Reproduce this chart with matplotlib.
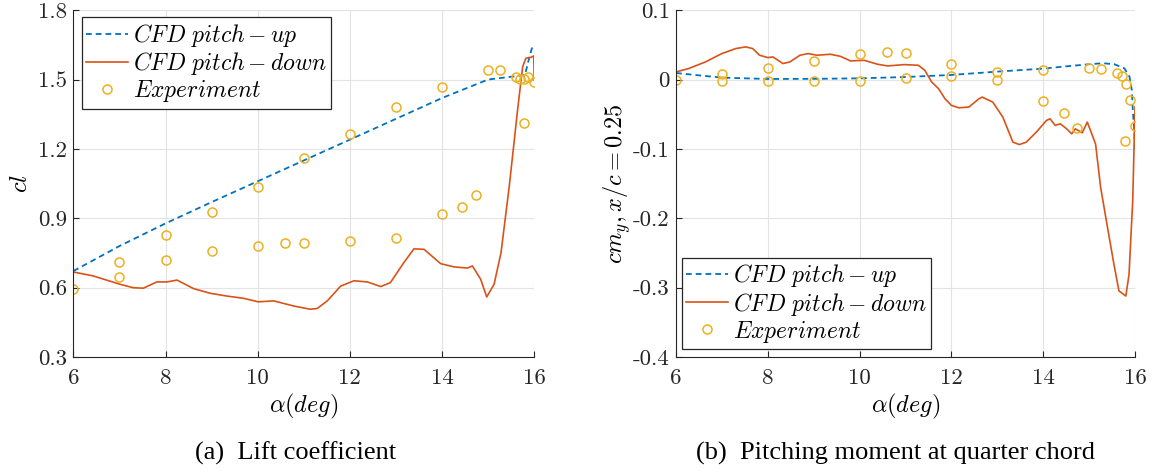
import numpy as np
import matplotlib

matplotlib.use('Agg')
import matplotlib.pyplot as plt

plt.rcParams['mathtext.fontset'] = 'cm'
plt.rcParams['axes.unicode_minus'] = False

BLUE = '#0072BD'
RED = '#D95319'
YELLOW = '#EDB120'

# ── (a) lift coefficient ──
cl_up_a = [6.0, 7.0, 8.0, 9.0, 10.0, 11.0, 12.0, 13.0, 14.0, 14.5, 15.0, 15.5, 15.8, 15.9, 15.96, 16.0]
cl_up = [0.672, 0.78, 0.878, 0.97, 1.06, 1.15, 1.24, 1.33, 1.42, 1.46, 1.50, 1.512, 1.52, 1.6, 1.642, 1.645]

cl_dn_a = [16.0, 15.99, 15.93, 15.82, 15.75, 15.64, 15.46, 15.28, 15.13, 14.97, 14.84, 14.66,
           14.55, 14.26, 13.97, 13.61, 13.39, 13.17, 12.88, 12.67, 12.38, 12.09, 11.80, 11.51,
           11.29, 11.14, 10.78, 10.35, 10.01, 9.70, 9.33, 8.97, 8.61, 8.25, 8.03, 7.81, 7.52,
           7.30, 7.01, 6.43, 6.0]
cl_dn = [1.498, 1.602, 1.596, 1.592, 1.556, 1.369, 1.04, 0.751, 0.615, 0.560, 0.636, 0.694,
         0.685, 0.69, 0.704, 0.766, 0.768, 0.708, 0.622, 0.605, 0.625, 0.630, 0.607, 0.543,
         0.51, 0.507, 0.521, 0.543, 0.539, 0.554, 0.564, 0.576, 0.596, 0.633, 0.625, 0.625,
         0.598, 0.600, 0.615, 0.651, 0.668]

cl_exp_a = [6.0, 7.0, 7.0, 8.0, 8.0, 9.0, 9.0, 10.0, 10.0, 10.6, 11.0, 11.0, 12.0, 12.0,
            13.0, 13.0, 14.0, 14.0, 14.43, 14.74, 15.0, 15.26, 15.6, 15.7, 15.78, 15.87,
            16.0, 15.78]
cl_exp = [0.593, 0.712, 0.645, 0.830, 0.718, 0.929, 0.757, 1.034, 0.781, 0.793, 0.794,
          1.159, 1.264, 0.800, 1.380, 0.816, 1.467, 0.918, 0.949, 1.000, 1.540, 1.540,
          1.513, 1.502, 1.504, 1.513, 1.490, 1.310]

# ── (b) pitching moment at quarter chord ──
cm_up_a = [6.0, 6.5, 7.0, 8.0, 9.0, 10.0, 11.0, 12.0, 13.0, 14.0, 14.5, 15.0, 15.3, 15.55,
           15.77, 15.88, 15.93, 15.95, 15.98, 16.0]
cm_up = [0.0094, 0.006, 0.0027, 0.0008, 0.001, 0.0017, 0.0036, 0.0066, 0.0114, 0.0157,
         0.019, 0.022, 0.0235, 0.022, 0.016, 0.004, -0.0155, -0.042, -0.07, -0.10]

cm_dn_a = [16.0, 15.95, 15.87, 15.8, 15.65, 15.54, 15.4, 15.25, 15.14, 14.96, 14.85, 14.7,
           14.62, 14.51, 14.37, 14.26, 14.15, 14.07, 13.85, 13.63, 13.48, 13.34, 13.12,
           12.9, 12.67, 12.6, 12.38, 12.16, 12.0, 11.86, 11.72, 11.57, 11.42, 11.28, 10.98,
           10.61, 10.39, 10.1, 9.8, 9.58, 9.36, 9.07, 8.88, 8.7, 8.48, 8.33, 8.11, 8.0,
           7.82, 7.67, 7.52, 7.3, 7.0, 6.64, 6.27, 6.0]
cm_dn = [-0.0397, -0.1746, -0.2805, -0.312, -0.3046, -0.266, -0.213, -0.155, -0.0927,
         -0.0614, -0.0768, -0.071, -0.0782, -0.071, -0.0638, -0.0662, -0.0566, -0.059,
         -0.0758, -0.0903, -0.0937, -0.0903, -0.0541, -0.0325, -0.0253, -0.0277, -0.0397,
         -0.0407, -0.0373, -0.0277, -0.0132, -0.0036, 0.0133, 0.0205, 0.0215, 0.0196,
         0.022, 0.0277, 0.0268, 0.0335, 0.0364, 0.035, 0.0374, 0.035, 0.0253, 0.023,
         0.0326, 0.0316, 0.035, 0.0446, 0.047, 0.0446, 0.0374, 0.0253, 0.0157, 0.0109]

cm_exp_a = [6.0, 7.0, 7.0, 8.0, 8.0, 9.0, 9.0, 10.0, 10.0, 10.6, 11.0, 11.0, 12.0, 12.0,
            13.0, 13.0, 14.0, 14.0, 14.45, 14.74, 15.0, 15.26, 15.61, 15.72, 15.81, 15.88,
            16.0, 15.78]
cm_exp = [0.0, 0.0075, -0.0026, 0.016, -0.002, 0.026, -0.0026, 0.0364, -0.0016, 0.0398,
          0.0379, 0.0022, 0.022, 0.0046, 0.0104, -0.0012, 0.0138, -0.0315, -0.048, -0.0696,
          0.0162, 0.0152, 0.0096, 0.0048, -0.0058, -0.030, -0.067, -0.088]

X_TICKS = [6, 8, 10, 12, 14, 16]
CL_TICKS = [0.3, 0.6, 0.9, 1.2, 1.5, 1.8]
CL_LABELS = ['0.3', '0.6', '0.9', '1.2', '1.5', '1.8']
CM_TICKS = [-0.4, -0.3, -0.2, -0.1, 0.0, 0.1]
CM_LABELS = ['-0.4', '-0.3', '-0.2', '-0.1', '0', '0.1']

LEG = [r'$CFD\ pitch-up$', r'$CFD\ pitch-down$', r'$Experiment$']
AX_COL = '#262626'
FS = 16.5


def style(ax, yt, yl):
    ax.set_xlim(6, 16)
    ax.set_xticks(X_TICKS)
    ax.set_xticklabels([str(t) for t in X_TICKS], fontfamily='cmr10', fontsize=FS)
    ax.set_yticks(yt)
    ax.set_yticklabels(yl, fontfamily='cmr10', fontsize=FS)
    ax.set_ylim(yt[0], yt[-1])
    for s in ('top', 'right'):
        ax.spines[s].set_visible(False)
    for s in ('left', 'bottom'):
        ax.spines[s].set_color(AX_COL)
        ax.spines[s].set_linewidth(0.8)
    ax.tick_params(direction='in', length=4, width=0.8, color=AX_COL, labelcolor=AX_COL)
    ax.tick_params(axis='x', pad=8)
    ax.tick_params(axis='y', pad=4.5)
    ax.grid(True, color='#e3e3e3', lw=0.8)
    ax.set_axisbelow(True)
    ax.set_xlabel(r'$\alpha(deg)$', fontsize=17.5, labelpad=3)


def draw(ax, ua, u, da, d, ea, e):
    ax.plot(ua, u, '--', color=BLUE, lw=1.3, dashes=(3.2, 2.2), label=LEG[0])
    ax.plot(da, d, '-', color=RED, lw=1.2, label=LEG[1])
    ax.plot(ea, e, 'o', ms=6.5, mfc='none', mec=YELLOW, mew=1.1, ls='none', label=LEG[2])


fig = plt.figure(figsize=(11.55, 4.73), dpi=100)
ax1 = fig.add_axes([0.0635, 0.245, 0.399, 0.7336])
ax2 = fig.add_axes([0.5853, 0.245, 0.3974, 0.7336])

draw(ax1, cl_up_a, cl_up, cl_dn_a, cl_dn, cl_exp_a, cl_exp)
style(ax1, CL_TICKS, CL_LABELS)
ax1.set_ylabel(r'$cl$', fontsize=17.5, labelpad=4)

draw(ax2, cm_up_a, cm_up, cm_dn_a, cm_dn, cm_exp_a, cm_exp)
style(ax2, CM_TICKS, CM_LABELS)
ax2.set_ylabel(r'$cm_y, x/c = 0.25$', fontsize=17.5, labelpad=0)

for ax, loc, anchor in ((ax1, 'upper left', (0.018, 0.98)), (ax2, 'lower left', (0.012, 0.022))):
    leg = ax.legend(loc=loc, bbox_to_anchor=anchor, fontsize=17, numpoints=1,
                    fancybox=False, framealpha=1, edgecolor=AX_COL, handlelength=1.75,
                    handletextpad=0.22, borderpad=0.2, labelspacing=0.05, borderaxespad=0.0)
    leg.get_frame().set_linewidth(0.9)

fig.text(0.2555, 1 - 453 / 473, '(a)  Lift coefficient', ha='center', va='center',
         fontsize=19, fontfamily='Liberation Serif')
fig.text(0.7755, 1 - 453 / 473, '(b)  Pitching moment at quarter chord', ha='center',
         va='center', fontsize=19, fontfamily='Liberation Serif')

fig.savefig('out.png', dpi=100)
